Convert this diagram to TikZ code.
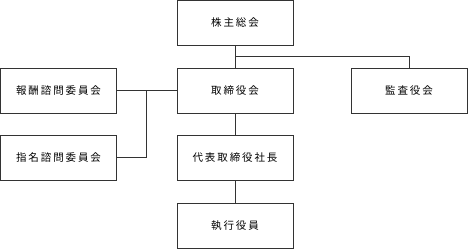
\documentclass[tikz,border=0pt]{standalone}
\usepackage{fontspec}
\newfontfamily\jpfont[LetterSpace=18]{Noto Sans CJK JP}
\tikzset{
  orgbox/.style={draw=black!80, line width=0.9pt, minimum width=116pt, minimum height=45pt,
    inner sep=0pt, font=\jpfont\fontsize{10.5}{12}\selectfont},
  orgline/.style={draw=black!80, line width=0.8pt}
}
\begin{document}
\begin{tikzpicture}[x=1pt, y=-1pt]
  \useasboundingbox (0,0) rectangle (468,249);
  % Boxes
  \node[orgbox] (meeting) at (235,23) {株主総会};
  \node[orgbox] (board) at (235,90.5) {取締役会};
  \node[orgbox] (audit) at (409,90.5) {監査役会};
  \node[orgbox] (remun) at (58.5,90.5) {報酬諮問委員会};
  \node[orgbox] (nomin) at (58.5,157.7) {指名諮問委員会};
  \node[orgbox] (ceo) at (235,157.7) {代表取締役社長};
  \node[orgbox] (exec) at (235,225.5) {執行役員};
  % Junctions
  \coordinate (jtop) at (235,56.7);
  \coordinate (jleft) at (146.7,90.5);
  % Lines
  \draw[orgline] (meeting.south) -- (board.north);
  \draw[orgline] (jtop) -| (audit.north);
  \draw[orgline] (remun.east) -- (board.west);
  \draw[orgline] (nomin.east) -| (jleft);
  \draw[orgline] (board.south) -- (ceo.north);
  \draw[orgline] (ceo.south) -- (exec.north);
\end{tikzpicture}
\end{document}
